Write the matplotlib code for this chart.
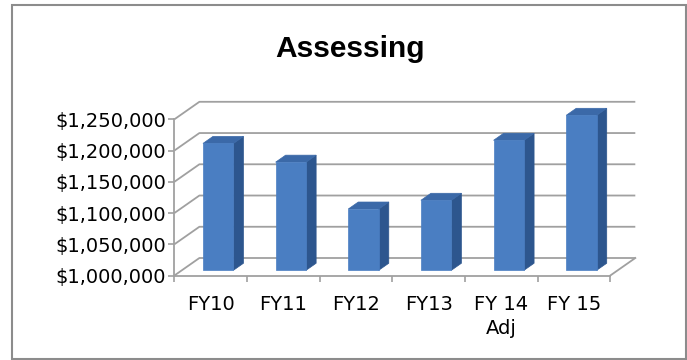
import numpy as np
import matplotlib.pyplot as plt
from matplotlib.patches import Polygon, Rectangle
from matplotlib.ticker import FuncFormatter

##########################################
####            Chart data            ####
##########################################
title = 'Assessing'
categories = ['FY10', 'FY11', 'FY12', 'FY13', 'FY 14\nAdj', 'FY 15']
values = [1203000, 1173000, 1098000, 1112000, 1208000, 1248000]
y_ticks = [1000000, 1050000, 1100000, 1150000, 1200000, 1250000]

##########################################
####              Styles              ####
##########################################
W, H = 687, 360
grid_col = '#A0A0A0'
front_col = '#4A7EC2'
side_col = '#2D568E'
top_col = '#3B69A8'
bar_w = 0.42 #fraction of category
f0, f1 = 0.3, 0.7 #bar depth range (fraction of floor depth)

plt.rcParams['font.family'] = ['DejaVu Sans']

fig = plt.figure(figsize=(W/100, H/100), dpi=100)
ax = fig.add_axes([174.4/W, (H-275.5)/H, 435.9/W, 156.2/H])
n = len(categories)
ymin, ymax = y_ticks[0], y_ticks[-1]
ax.set_xlim(0, n)
ax.set_ylim(ymin, ymax)

### depth of the 3d floor in data units (about 25 px right, 17.5 px up)
dx = 25/(435.9/n)
dy = 17.5/(156.2/(ymax-ymin))

### back wall gridlines and floor
for v in y_ticks:
	ax.plot([0, dx, n+dx], [v+0, v+dy, v+dy], color=grid_col, lw=1.3, clip_on=False, zorder=1, solid_capstyle='butt')
ax.plot([n, n+dx], [ymin, ymin+dy], color=grid_col, lw=1.3, clip_on=False, zorder=1)

### 3d bars
for i, v in enumerate(values):
	x0 = i+0.5-bar_w/2
	x1 = x0+bar_w
	front = [(x0+f0*dx, ymin+f0*dy), (x1+f0*dx, ymin+f0*dy), (x1+f0*dx, v+f0*dy), (x0+f0*dx, v+f0*dy)]
	side = [(x1+f0*dx, ymin+f0*dy), (x1+f1*dx, ymin+f1*dy), (x1+f1*dx, v+f1*dy), (x1+f0*dx, v+f0*dy)]
	top = [(x0+f0*dx, v+f0*dy), (x1+f0*dx, v+f0*dy), (x1+f1*dx, v+f1*dy), (x0+f1*dx, v+f1*dy)]
	for pts, col in [(side, side_col), (top, top_col), (front, front_col)]:
		ax.add_patch(Polygon(pts, closed=True, fc=col, ec=col, lw=0.5, clip_on=False, zorder=3))

### axes
for s in ['top', 'right']:
	ax.spines[s].set_visible(False)
for s in ['left', 'bottom']:
	ax.spines[s].set_color(grid_col)
	ax.spines[s].set_linewidth(1.3)
ax.set_yticks(y_ticks)
ax.yaxis.set_major_formatter(FuncFormatter(lambda v, p: '${:,.0f}'.format(v)))
ax.tick_params(axis='y', direction='out', length=4.5, width=1.2, color=grid_col, pad=1.5, labelsize=14)
ax.set_xticks(np.arange(n+1), minor=True)
ax.set_xticks(np.arange(n)+0.5)
ax.set_xticklabels(categories)
ax.tick_params(axis='x', which='major', length=0, pad=14, labelsize=14)
ax.tick_params(axis='x', which='minor', direction='out', length=4.2, width=1.2, color=grid_col)
for lbl in ax.get_xticklabels():
	lbl.set_linespacing(1.35)

### title and chart border
fig.text(349.6/W, 1-56.7/H, title, ha='center', va='baseline', fontsize=21.5, fontweight='bold', family='Liberation Sans')
fig.add_artist(Rectangle((12.3/W, (H-358.5)/H), (686-12.3)/W, (358.5-5)/H, transform=fig.transFigure, fill=False, ec='#8C8C8C', lw=1.5))

fig.savefig('out.png', dpi=100)
